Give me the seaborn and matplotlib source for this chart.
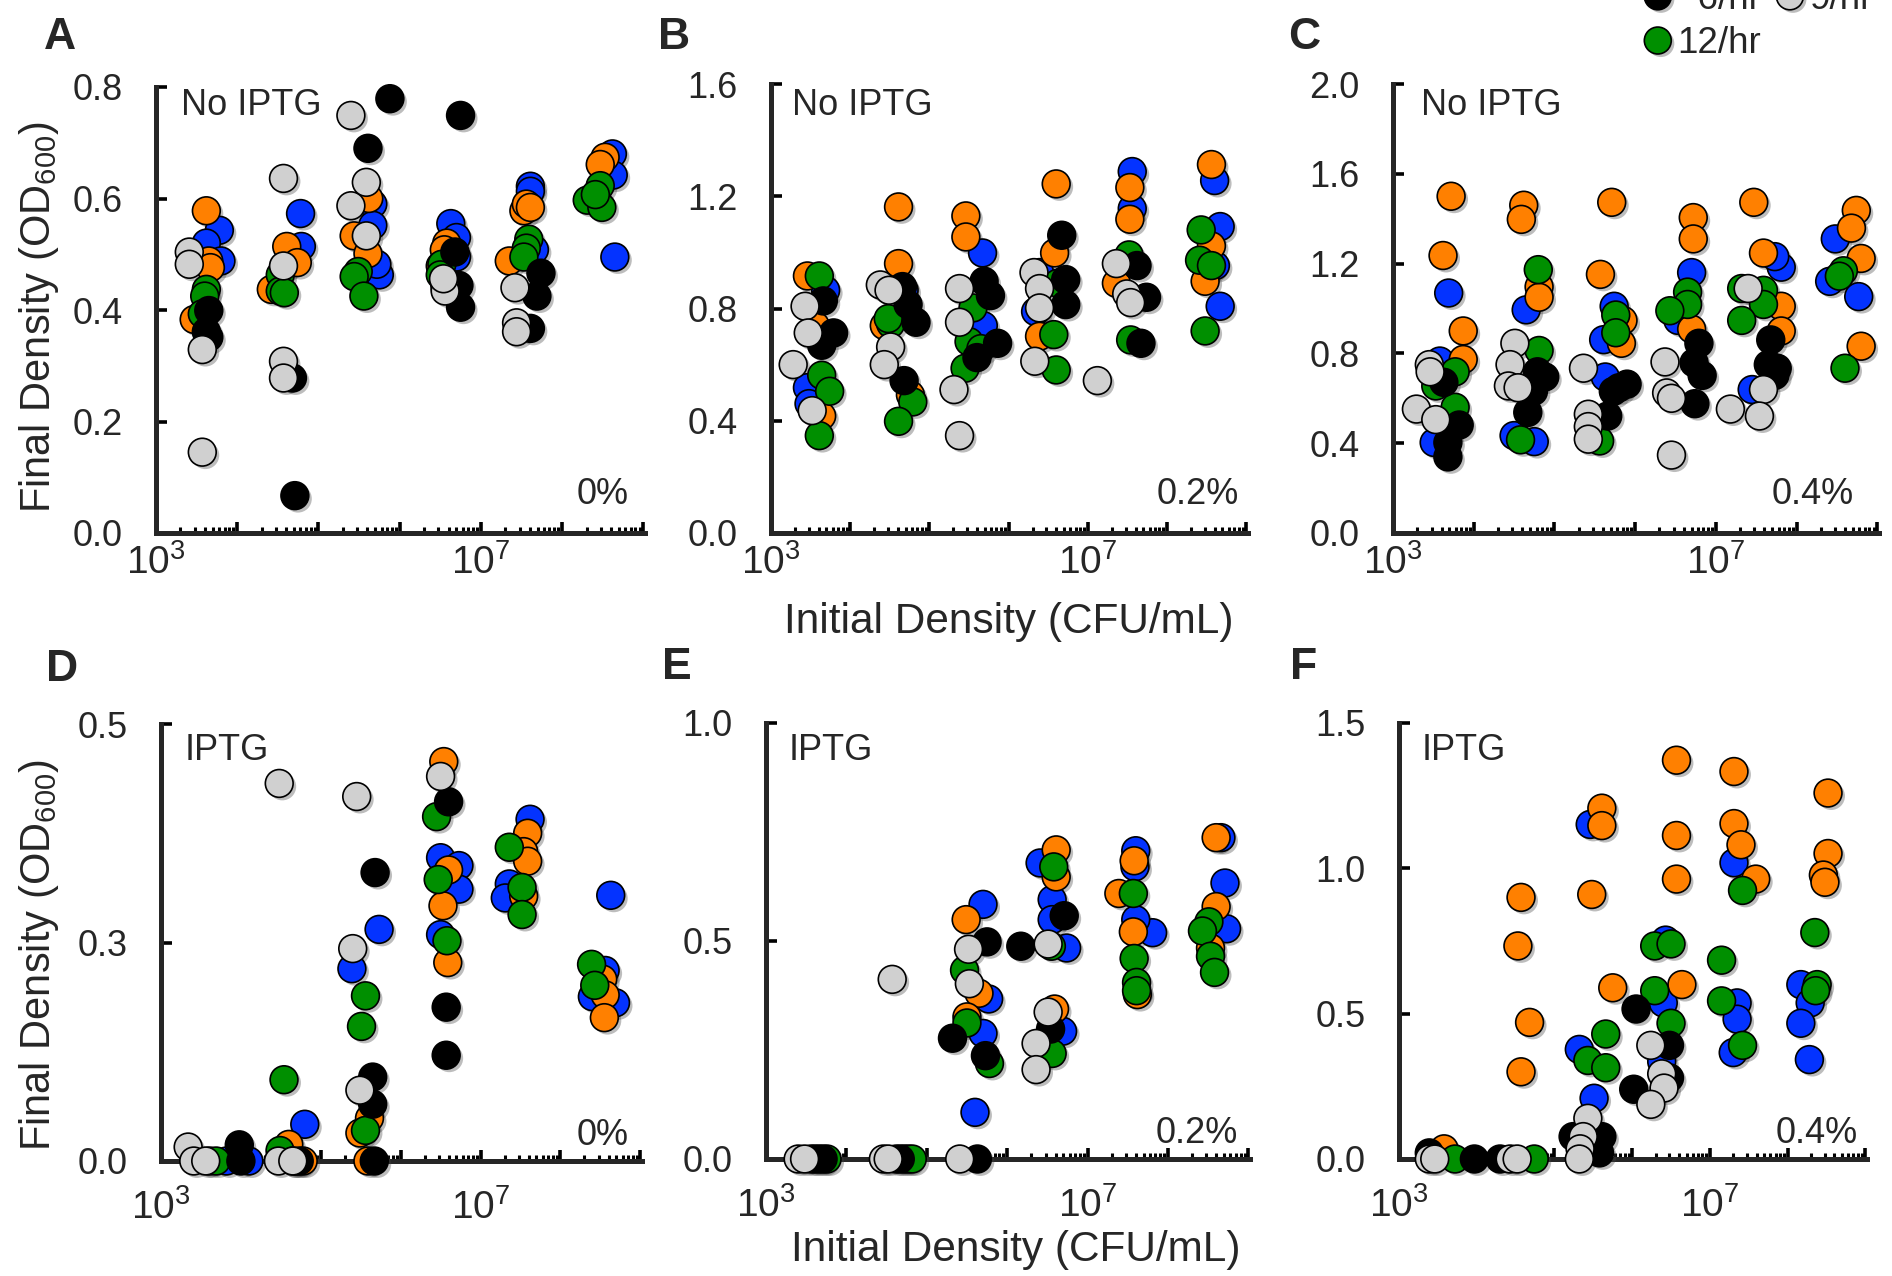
import numpy as np
import pandas as pd
import matplotlib
matplotlib.use("Agg")
import matplotlib.pyplot as plt
import matplotlib.patheffects as pe
from matplotlib.lines import Line2D
from matplotlib.ticker import LogLocator, FixedLocator, FuncFormatter, NullFormatter
import seaborn as sns

# ---------------------------------------------------------------- series
rates = ["0/hr", "3/hr", "6/hr", "9/hr", "12/hr"]
rate_colors = ["#0433FF", "#FF8000", "#000000", "#D0D0D0", "#008F00"]
legend_labels = ["\u20070/hr", "\u20073/hr", "\u20076/hr", "9/hr", "12/hr"]
draw_order = ["0/hr", "3/hr", "12/hr", "6/hr", "9/hr"]

# Each point: (log10 initial density in CFU/mL, final OD600)
# ---- A: no IPTG, 0%
A_r0 = [(3.78, .543), (3.62, .520), (3.80, .488), (4.78, .573), (4.79, .514),
        (5.67, .590), (5.67, .552), (5.75, .463), (5.72, .482),
        (6.63, .555), (6.70, .530), (6.70, .495), (7.61, .622), (7.61, .613), (7.66, .508),
        (8.62, .680), (8.63, .642), (8.65, .495)]
A_r3 = [(3.62, .578), (3.47, .383), (3.65, .488), (3.67, .476), (4.42, .437), (4.61, .514), (4.74, .485),
        (5.62, .600), (5.44, .533), (5.61, .501), (6.58, .520), (6.55, .508), (6.50, .479),
        (7.53, .578), (7.56, .590), (7.61, .584), (7.35, .488), (8.53, .674), (8.47, .661)]
A_r6 = [(3.65, .399), (3.65, .351), (3.62, .361), (4.68, .278), (4.71, .067), (5.88, .779), (5.61, .690),
        (6.75, .749), (6.68, .504), (6.73, .444), (6.75, .405), (7.74, .466), (7.69, .425), (7.61, .367)]
A_r9 = [(3.41, .504), (3.41, .482), (3.57, .329), (3.57, .145), (4.57, .636), (4.57, .479), (4.57, .308),
        (4.57, .278), (5.40, .749), (5.40, .587), (5.59, .629), (5.59, .533),
        (6.55, .450), (6.56, .440), (6.56, .434), (6.54, .456), (7.42, .440), (7.44, .377), (7.44, .361)]
A_r12 = [(3.62, .437), (3.60, .425), (3.57, .393), (4.53, .463), (4.53, .434), (4.58, .431),
         (5.49, .469), (5.44, .460), (5.56, .425), (6.52, .482), (6.50, .463),
         (7.59, .527), (7.56, .511), (7.53, .495), (8.31, .597), (8.47, .623), (8.49, .584), (8.41, .607)]

# ---- B: no IPTG, 0.2%
B_r0 = [(3.69, .865), (3.46, .518), (3.48, .461), (4.68, .865), (5.67, .998), (5.68, .739),
        (6.39, .928), (6.34, .789), (7.56, 1.288), (7.56, 1.156),
        (8.60, 1.256), (8.67, 1.092), (8.67, .808), (8.61, .953)]
B_r3 = [(3.46, .916), (3.64, .417), (3.56, .739), (4.61, 1.162), (4.61, .960), (4.43, .739), (4.76, .492),
        (5.46, 1.130), (5.46, 1.055), (6.60, 1.244), (6.58, .998), (6.39, .701),
        (7.53, 1.231), (7.53, 1.118), (7.36, .890), (8.56, 1.313), (8.56, 1.023), (8.48, .897)]
B_r6 = [(3.66, .827), (3.79, .713), (3.64, .669), (4.66, .878), (4.73, .814), (4.83, .751), (4.68, .543),
        (5.69, .897), (5.77, .846), (5.86, .676), (5.60, .625), (6.67, 1.061), (6.72, .903), (6.72, .814),
        (7.62, .953), (7.74, .840), (7.67, .676)]
B_r9 = [(3.28, .600), (3.43, .808), (3.47, .713), (3.52, .436), (4.38, .884), (4.49, .865), (4.51, .663),
        (4.43, .600), (5.38, .871), (5.38, .751), (5.31, .511), (5.38, .347),
        (6.32, .928), (6.39, .871), (6.39, .802), (6.33, .612), (7.12, .543),
        (7.36, .960), (7.49, .852), (7.54, .821)]
B_r12 = [(3.61, .916), (3.64, .562), (3.74, .505), (3.61, .347), (4.51, .745), (4.48, .764), (4.79, .467),
         (4.61, .398), (5.55, .802), (5.50, .682), (5.45, .587), (5.65, .657),
         (6.57, .707), (6.60, .581), (6.62, .890), (7.52, .991), (7.54, .688),
         (8.43, 1.080), (8.41, .972), (8.56, .953), (8.48, .720)]

# ---- C: no IPTG, 0.4%
C_r0 = [(3.69, 1.069), (3.58, .766), (3.51, .403), (4.65, .994), (4.75, .407), (4.50, .434),
        (5.74, 1.010), (5.61, .861), (5.63, .695), (6.70, 1.160), (6.53, .947),
        (7.81, 1.184), (7.73, 1.231), (7.45, .639), (8.48, 1.310), (8.41, 1.121), (8.77, 1.053)]
C_r3 = [(3.72, 1.500), (3.62, 1.236), (3.87, .900), (3.87, .773), (4.62, 1.460), (4.59, 1.397),
        (4.81, 1.097), (4.81, 1.050), (5.71, 1.473), (5.57, 1.152), (5.83, .845), (5.85, .947),
        (6.72, 1.405), (6.72, 1.310), (6.70, .908), (7.47, 1.473), (7.59, 1.247), (7.81, 1.010),
        (7.81, .900), (8.74, 1.437), (8.68, 1.358), (8.80, 1.223), (8.80, .832)]
C_r6 = [(3.63, .671), (3.82, .481), (3.68, .403), (3.68, .339), (4.79, .718), (4.88, .695), (4.74, .631),
        (4.67, .537), (5.90, .663), (5.80, .647), (5.73, .631), (5.66, .521),
        (6.79, .845), (6.73, .758), (6.83, .702), (6.74, .576), (7.68, .860), (7.65, .750),
        (7.76, .734), (7.73, .702)]
C_r9 = [(3.45, .750), (3.46, .718), (3.29, .552), (3.53, .505), (4.51, .845), (4.45, .750), (4.43, .655),
        (4.55, .647), (5.36, .734), (5.42, .529), (5.42, .474), (5.42, .418),
        (6.37, .762), (6.39, .624), (6.45, .600), (6.45, .347), (7.40, 1.089), (7.59, .639),
        (7.54, .521), (7.18, .552)]
C_r12 = [(3.77, .718), (3.53, .655), (3.77, .560), (4.80, 1.173), (4.81, .813), (4.58, .415),
         (5.76, .971), (5.76, .892), (5.56, .410), (6.65, 1.073), (6.65, 1.018), (6.43, .990),
         (7.32, 1.089), (7.59, 1.081), (7.59, 1.018), (7.32, .947), (8.58, 1.168), (8.53, 1.144), (8.60, .734)]

# ---- D: IPTG, 0%
D_r0 = [(3.82, 0), (4.10, 0), (4.80, .042), (4.70, 0), (5.39, .220), (5.73, .265),
        (6.50, .347), (6.73, .338), (6.73, .311), (6.50, .259), (7.62, .391), (7.36, .317), (7.31, .301),
        (8.63, .304), (8.56, .218), (8.40, .188), (8.69, .181)]
D_r3 = [(3.61, 0), (4.60, .019), (4.78, 0), (5.61, .049), (5.49, .032), (5.59, 0),
        (6.54, .457), (6.60, .333), (6.53, .292), (6.59, .227), (7.59, .375), (7.54, .354),
        (7.59, .343), (7.54, .303), (8.53, .208), (8.56, .190), (8.55, .164)]
D_r6 = [(3.98, .0185), (4.00, 0), (4.65, 0), (4.73, 0), (5.68, .330), (5.65, .096), (5.65, .065),
        (5.67, 0), (6.60, .411), (6.57, .176), (6.57, .121)]
D_r9 = [(3.34, .016), (3.41, 0), (3.56, 0), (4.48, .432), (4.47, 0), (4.65, 0),
        (5.45, .417), (5.40, .243), (5.49, .081), (6.50, .440)]
D_r12 = [(3.69, 0), (4.54, .093), (4.49, .012), (5.56, .189), (5.51, .154), (5.56, .035),
         (6.45, .394), (6.47, .322), (6.58, .252), (7.36, .359), (7.52, .313), (7.52, .282),
         (8.39, .225), (8.43, .201)]

# ---- E: IPTG, 0.2%
E_r0 = [(3.61, 0), (4.77, 0), (5.70, .584), (5.77, .367), (5.70, .288), (5.60, .107),
        (6.41, .679), (6.56, .595), (6.56, .549), (6.74, .484), (6.69, .293),
        (7.60, .707), (7.59, .670), (7.81, .519), (7.60, .549), (8.66, .737), (8.71, .633), (8.73, .528)]
E_r3 = [(3.56, 0), (4.72, 0), (5.49, .549), (5.65, .380), (5.50, .326), (6.61, .709), (6.61, .647),
        (6.59, .344), (7.58, .684), (7.39, .609), (7.57, .521), (7.62, .377),
        (8.60, .737), (8.60, .579), (8.53, .484)]
E_r6 = [(3.66, 0), (3.71, 0), (4.67, 0), (4.62, 0), (5.75, .498), (5.32, .277), (5.73, .237), (5.63, 0),
        (6.71, .558), (6.17, .488), (6.54, .298)]
E_r9 = [(3.40, 0), (3.48, 0), (4.46, 0), (4.52, 0), (4.57, .412), (5.52, .481), (5.53, .402), (5.41, 0),
        (6.51, .493), (6.51, .337), (6.36, .265), (6.36, .205)]
E_r12 = [(3.76, 0), (4.82, 0), (5.47, .433), (5.50, .312), (5.78, .219), (6.58, .670), (6.55, .488),
         (6.56, .242), (7.57, .609), (7.58, .460), (7.61, .405), (7.61, .386),
         (8.51, .544), (8.43, .523), (8.53, .465), (8.58, .428)]

# ---- F: IPTG, 0.4%
F_r0 = [(5.46, 1.151), (5.32, .377), (5.51, .209), (6.43, .753), (6.40, .537), (6.38, .335),
        (7.31, 1.019), (7.35, .537), (7.35, .481), (7.30, .366),
        (8.17, .600), (8.29, .537), (8.17, .467), (8.28, .342)]
F_r3 = [(3.58, .035), (4.57, .900), (4.53, .733), (4.68, .470), (4.57, .300),
        (5.61, 1.207), (5.61, 1.147), (5.48, .910), (5.75, .589),
        (6.57, 1.372), (6.57, 1.113), (6.57, .963), (6.64, .600),
        (7.31, 1.333), (7.31, 1.154), (7.40, 1.081), (7.59, .963),
        (8.52, 1.259), (8.52, 1.051), (8.46, .977), (8.48, .952)]
F_r6 = [(3.39, .021), (3.97, 0), (4.30, 0), (5.24, .077), (5.61, .077), (5.58, .021),
        (6.05, .516), (6.48, .391), (6.48, .279), (6.02, .240)]
F_r9 = [(3.39, 0), (3.46, 0), (4.43, 0), (4.52, 0), (5.43, .140), (5.37, .077), (5.33, .035), (5.32, 0),
        (6.24, .391), (6.38, .293), (6.41, .244), (6.24, .188)]
F_r12 = [(3.72, 0), (4.74, 0), (5.66, .430), (5.43, .339), (5.66, .314),
         (6.29, .733), (6.50, .740), (6.29, .579), (6.50, .467),
         (7.42, .924), (7.15, .684), (7.15, .544), (7.42, .391), (8.35, .779), (8.38, .600), (8.36, .579)]

# axis ticks and panel annotations
A_yticks, A_ylabels = [0, .2, .4, .6, .8], ["0.0", "0.2", "0.4", "0.6", "0.8"]
B_yticks, B_ylabels = [0, .4, .8, 1.2, 1.6], ["0.0", "0.4", "0.8", "1.2", "1.6"]
C_yticks, C_ylabels = [0, .4, .8, 1.2, 1.6, 2.0], ["0.0", "0.4", "0.8", "1.2", "1.6", "2.0"]
D_yticks, D_ylabels = [0, .25, .5], ["0.0", "0.3", "0.5"]
E_yticks, E_ylabels = [0, .5, 1.0], ["0.0", "0.5", "1.0"]
F_yticks, F_ylabels = [0, .5, 1.0, 1.5], ["0.0", "0.5", "1.0", "1.5"]
labelled_decades = [3, 7]
percent_text = ["0%", "0.2%", "0.4%", "0%", "0.2%", "0.4%"]
condition_text = ["No IPTG", "No IPTG", "No IPTG", "IPTG", "IPTG", "IPTG"]

# ---------------------------------------------------------------- style
sns.set_style("ticks")
plt.rcParams["font.family"] = ["Liberation Sans", "DejaVu Sans"]
plt.rcParams["mathtext.fontset"] = "custom"
plt.rcParams["mathtext.rm"] = "Liberation Sans"
plt.rcParams["mathtext.it"] = "Liberation Sans:italic"
plt.rcParams["mathtext.bf"] = "Liberation Sans:bold"

W, H = 1892, 1276
fig = plt.figure(figsize=(W / 100, H / 100), dpi=100)


def fx(x):
    return x / W


def fy(y):
    return 1 - y / H


def build_frame(series):
    rows = []
    for rate, pts in zip(rates, series):
        for lx, od in pts:
            rows.append((rate, 10 ** lx, od))
    df = pd.DataFrame(rows, columns=["rate", "cfu", "od"])
    df["order"] = df["rate"].map({r: i for i, r in enumerate(draw_order)})
    return df.sort_values("order", kind="stable")


shadow = [pe.SimplePatchShadow(offset=(2.2, -2.2), shadow_rgbFace="#444444", alpha=0.35), pe.Normal()]

# panel layout in pixels: left, top, right, bottom, x-label pad
panels = [
    ("A", [A_r0, A_r3, A_r6, A_r9, A_r12], A_yticks, A_ylabels, (156, 87, 645, 533), 8),
    ("B", [B_r0, B_r3, B_r6, B_r9, B_r12], B_yticks, B_ylabels, (771, 84, 1248, 533), 8),
    ("C", [C_r0, C_r3, C_r6, C_r9, C_r12], C_yticks, C_ylabels, (1393, 84, 1879, 533), 8),
    ("D", [D_r0, D_r3, D_r6, D_r9, D_r12], D_yticks, D_ylabels, (161, 724, 642, 1161), 20),
    ("E", [E_r0, E_r3, E_r6, E_r9, E_r12], E_yticks, E_ylabels, (766, 723, 1250, 1159), 20),
    ("F", [F_r0, F_r3, F_r6, F_r9, F_r12], F_yticks, F_ylabels, (1399, 723, 1867, 1159), 20),
]

letter_pos = [(44, 49), (658, 49), (1288, 49), (46, 681), (662, 679), (1290, 679)]
cond_pos = [(181, 115), (792, 115), (1421, 115), (185, 760), (789, 760), (1422, 760)]
pct_pos = [(629, 504), (1239, 504), (1854, 504), (629, 1145), (1238, 1143), (1858, 1143)]


def decade_label(v, pos):
    e = int(round(np.log10(v)))
    return r"$\mathregular{10^{%d}}$" % e if e in labelled_decades else ""


for i, (letter, series, yt, yl, (l, t, r, b), xpad) in enumerate(panels):
    ax = fig.add_axes([fx(l), fy(b), fx(r - l), (b - t) / H])
    ax.set_xscale("log")
    df = build_frame(series)
    sns.scatterplot(data=df, x="cfu", y="od", hue="rate", hue_order=rates,
                    palette=rate_colors, s=400, edgecolor="black", linewidth=1.2,
                    legend=False, ax=ax, clip_on=False, zorder=3)
    for coll in ax.collections:
        coll.set_path_effects(shadow)
    ax.set_xlim(1e3, 1.05e9)
    ax.set_ylim(0, yt[-1])
    ax.set_xlabel("")
    ax.set_ylabel("")
    ax.xaxis.set_major_locator(LogLocator(base=10, numticks=20))
    ax.xaxis.set_minor_locator(LogLocator(base=10, subs=np.arange(2, 10), numticks=20))
    ax.xaxis.set_major_formatter(FuncFormatter(decade_label))
    ax.xaxis.set_minor_formatter(NullFormatter())
    ax.yaxis.set_major_locator(FixedLocator(yt))
    ax.set_yticklabels(yl)
    for side in ("top", "right"):
        ax.spines[side].set_visible(False)
    for side in ("left", "bottom"):
        ax.spines[side].set_linewidth(3.6)
        ax.spines[side].set_zorder(2.5)
    ax.tick_params(axis="both", which="major", direction="in", length=8, width=2.6, color="black")
    ax.tick_params(axis="x", which="minor", direction="in", length=4.5, width=2.2, color="black")
    ax.tick_params(axis="y", which="major", pad=24, labelsize=26)
    ax.tick_params(axis="x", which="major", pad=xpad, labelsize=28)
    ax.patch.set_alpha(0)

    fig.text(fx(letter_pos[i][0]), fy(letter_pos[i][1]), letter, fontsize=32,
             fontweight="bold", ha="left", va="baseline")
    fig.text(fx(cond_pos[i][0]), fy(cond_pos[i][1]), condition_text[i], fontsize=26,
             ha="left", va="baseline")
    fig.text(fx(pct_pos[i][0]), fy(pct_pos[i][1]), percent_text[i], fontsize=26,
             ha="right", va="baseline")

# axis titles
for yc in (317, 955):
    fig.text(fx(39), fy(yc), r"Final Density (OD$_{600}$)", fontsize=30, rotation=90,
             ha="center", va="center")
fig.text(fx(1009), fy(633), "Initial Density (CFU/mL)", fontsize=30.5, ha="center", va="baseline")
fig.text(fx(1016), fy(1261), "Initial Density (CFU/mL)", fontsize=30.5, ha="center", va="baseline")

# legend (two columns, filled column by column)
legend_idx = [0, 2, 4, 1, 3]
handles = []
for k in legend_idx:
    h = Line2D([], [], linestyle="", marker="o", markersize=19.4,
               markerfacecolor=rate_colors[k], markeredgecolor="black", markeredgewidth=1.2)
    h.set_path_effects(shadow)
    handles.append(h)
fig.legend(handles, [legend_labels[k] for k in legend_idx], ncol=2, loc="upper left",
           bbox_to_anchor=(fx(1644), 1 + 62 / H), frameon=False, fontsize=26.5,
           handlelength=0.75, handletextpad=0.16, columnspacing=0.4, labelspacing=0.25,
           borderpad=0, borderaxespad=0)

fig.savefig("out.png", dpi=100)
